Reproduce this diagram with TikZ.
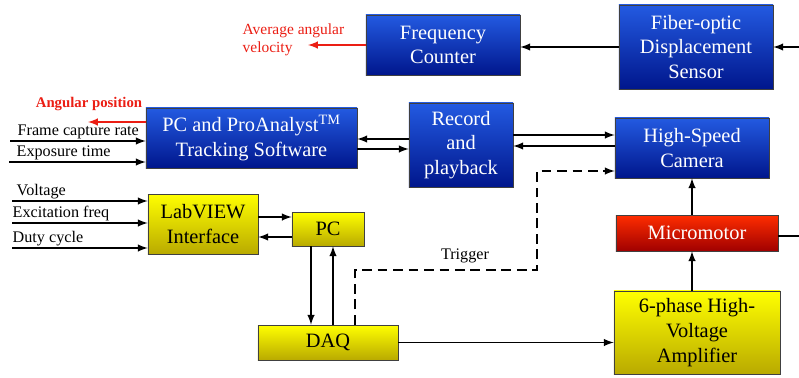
\documentclass[tikz,border=0pt]{standalone}
\usepackage{fontspec}
\IfFontExistsTF{LiberationSerif-Regular.ttf}{%
	\setmainfont{LiberationSerif-Regular.ttf}[BoldFont = LiberationSerif-Bold.ttf]}{%
	\IfFontExistsTF{Liberation Serif}{\setmainfont{Liberation Serif}}{}}
\definecolor{bluetop}{RGB}{35,90,225}
\definecolor{bluebot}{RGB}{0,22,140}
\definecolor{yeltop}{RGB}{255,255,0}
\definecolor{yelbot}{RGB}{185,170,0}
\definecolor{redtop}{RGB}{255,45,0}
\definecolor{redbot}{RGB}{160,0,0}
\definecolor{sigred}{RGB}{235,30,20}
\tikzset{
	box/.style = {draw = black!75, inner sep = 0pt, align = center, font = \fontsize{14.5}{17.5}\selectfont},
	bluebox/.style = {box, top color = bluetop, bottom color = bluebot, text = white},
	yelbox/.style = {box, top color = yeltop, bottom color = yelbot, text = black},
	redbox/.style = {box, top color = redtop, bottom color = redbot, text = white},
	arr/.style = {-latex, line width = 1.4pt},
	redarr/.style = {-latex, line width = 1.4pt, sigred},
	lbl/.style = {inner sep = 1pt, font = \fontsize{11.5}{13}\selectfont}
}
\begin{document}
\begin{tikzpicture}[x = 0.025cm, y = -0.025cm]
	\useasboundingbox (0,0) rectangle (799,377);
	\node [bluebox, minimum width = 3.85cm, minimum height = 1.5cm] (freq) at (443,45) {Frequency\\Counter};
	\node [bluebox, minimum width = 3.85cm, minimum height = 2.1cm] (fiber) at (696,47) {Fiber-optic\\Displacement\\Sensor};
	\node [bluebox, minimum width = 5.275cm, minimum height = 1.5cm] (pcsw) at (251.5,138) {PC and ProAnalyst\textsuperscript{TM}\\Tracking Software};
	\node [bluebox, minimum width = 2.6cm, minimum height = 2.1cm] (record) at (461,145) {Record\\and\\playback};
	\node [bluebox, minimum width = 3.85cm, minimum height = 1.5cm] (camera) at (692,148) {High-Speed\\Camera};
	\node [redbox, minimum width = 4.05cm, minimum height = 0.9cm] (motor) at (697,233) {Micromotor};
	\node [yelbox, minimum width = 4.15cm, minimum height = 2.075cm] (amp) at (697,332.5) {6-phase High-\\Voltage\\Amplifier};
	\node [yelbox, minimum width = 3.5cm, minimum height = 0.875cm] (daq) at (328,342.5) {DAQ};
	\node [yelbox, minimum width = 2.75cm, minimum height = 1.5cm] (labview) at (203,224) {LabVIEW\\Interface};
	\node [yelbox, minimum width = 1.8cm, minimum height = 0.85cm] (pc) at (328,229) {PC};

	\coordinate (fibin) at (799,47);
	\draw [arr] (fibin) -- (fiber.east);
	\draw [arr] (fiber.west) -- (fiber.west -| freq.east);
	\coordinate (avgtip) at (308,45);
	\draw [redarr] (freq.west |- avgtip) -- (avgtip);
	\node [lbl, sigred, anchor = west, align = left, font = \fontsize{11}{13}\selectfont] (avg) at (241,40) {Average angular\\velocity};
	\coordinate (angtip) at (88,122);
	\draw [redarr] (pcsw.west |- angtip) -- (angtip);
	\node [inner sep = 0pt, sigred, font = \fontsize{10.5}{12}\selectfont\bfseries] (ang) at (89,104) {Angular position};

	\coordinate (frin) at (10,141);
	\draw [arr] (frin) -- (frin -| pcsw.west);
	\node [lbl, anchor = south west] (frlbl) at (16,141) {Frame capture rate};
	\coordinate (exin) at (9,162);
	\draw [arr] (exin) -- (exin -| pcsw.west);
	\node [lbl, anchor = south west] (exlbl) at (15,162) {Exposure time};

	\draw [arr] (record.west |- 0,139) -- (pcsw.east |- 0,139);
	\draw [arr] (pcsw.east |- 0,149) -- (record.west |- 0,149);
	\draw [arr] (record.east |- 0,135) -- (camera.west |- 0,135);
	\draw [arr] (camera.west |- 0,146) -- (record.east |- 0,146);

	\coordinate (vin) at (12,201);
	\draw [arr] (vin) -- (vin -| labview.west);
	\node [lbl, anchor = south west] (vlbl) at (15,201) {Voltage};
	\coordinate (efin) at (12,223);
	\draw [arr] (efin) -- (efin -| labview.west);
	\node [lbl, anchor = south west] (eflbl) at (11,223) {Excitation freq};
	\coordinate (dcin) at (12,248);
	\draw [arr] (dcin) -- (dcin -| labview.west);
	\node [lbl, anchor = south west] (dclbl) at (11,248) {Duty cycle};

	\draw [arr] (labview.east |- 0,217) -- (pc.west |- 0,217);
	\draw [arr] (pc.west |- 0,237) -- (labview.east |- 0,237);
	\draw [arr] (pc.south -| 311,0) -- (daq.north -| 311,0);
	\draw [arr] (daq.north -| 333,0) -- (pc.south -| 333,0);

	\draw [arr, dashed, dash pattern = on 7pt off 4pt] (daq.north -| 355,0) -- (355,270) -- (537,270) -- (537,171) -- (camera.west |- 0,171);
	\node [lbl] (trig) at (465,256) {Trigger};

	\draw [arr] (daq.east) -- (daq.east -| amp.west);
	\draw [arr] (amp.north -| camera.south) -- (motor.south -| camera.south);
	\draw [arr] (motor.north -| camera.south) -- (camera.south);
	\coordinate (mout) at (799,236);
	\draw [line width = 1.4pt] (motor.east |- mout) -- (mout);
\end{tikzpicture}
\end{document}
